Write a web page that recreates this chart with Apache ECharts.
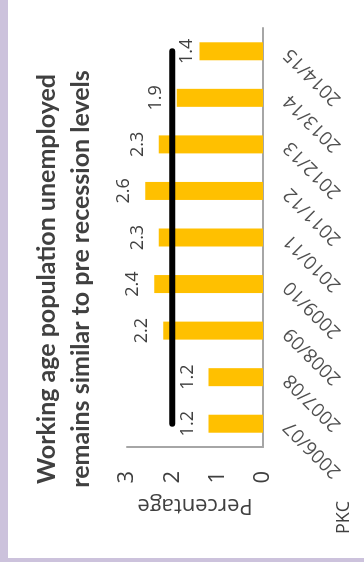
<!DOCTYPE html>
<html>
<head>
<meta charset="utf-8">
<script src="https://cdn.jsdelivr.net/npm/echarts@6/dist/echarts.min.js"></script>
<style>
  html, body { margin: 0; padding: 0; }
  body { width: 364px; height: 562px; background: #CCC2DC; position: relative; overflow: hidden; }
  /* chart is laid out landscape, then turned a quarter turn anticlockwise */
  #chart {
    position: absolute; left: 8px; top: 558px;
    width: 558px; height: 356px;
    background: #ffffff;
    transform-origin: 0 0;
    transform: rotate(-90deg);
  }
</style>
</head>
<body>
<div id="chart"></div>
<script>
// Financial years shown on the category axis
const categories = ['2006/07', '2007/08', '2008/09', '2009/10', '2010/11', '2011/12', '2012/13', '2013/14', '2014/15'];
// Working age population unemployed (%)
const unemployed = [1.2, 1.2, 2.2, 2.4, 2.3, 2.6, 2.3, 1.9, 1.4];
// Pre-recession reference level (%)
const preRecession = [2, 2, 2, 2, 2, 2, 2, 2, 2];
// Value axis ticks
const valueTicks = [0, 1, 2, 3];

const textColor = '#404040';
const bodyFont = '"Open Sans", sans-serif';

const barData = unemployed.map(function (v, i) {
  // the 2014/15 label sits closer to its bar so it clears the reference line
  if (categories[i] === '2014/15') {
    return { value: v, label: { distance: 4 } };
  }
  return v;
});

const chart = echarts.init(document.getElementById('chart'), null, { renderer: 'canvas' });
chart.setOption({
  animation: false,
  backgroundColor: '#ffffff',
  title: {
    text: 'Working age population unemployed\nremains similar to pre recession levels',
    left: 'center',
    top: 17,
    textStyle: {
      fontFamily: 'Lato, sans-serif',
      fontWeight: 'bold',
      fontSize: 25,
      lineHeight: 34,
      color: '#404040'
    }
  },
  graphic: [{
    type: 'text',
    left: 24,
    top: 327,
    style: { text: 'PKC', font: '18px "Open Sans", sans-serif', fill: '#404040' }
  }],
  grid: { left: 111, right: 28, top: 119, bottom: 101, containLabel: false },
  xAxis: {
    type: 'category',
    data: categories,
    boundaryGap: true,
    axisLine: { show: true, lineStyle: { color: '#a6a6a6', width: 2 } },
    axisTick: { show: false },
    axisLabel: {
      rotate: 45,
      margin: 24,
      interval: 0,
      fontFamily: bodyFont,
      fontSize: 19,
      color: '#505050'
    },
    splitLine: { show: false }
  },
  yAxis: {
    type: 'value',
    min: valueTicks[0],
    max: valueTicks[valueTicks.length - 1],
    interval: valueTicks[1] - valueTicks[0],
    name: 'Percentage',
    nameLocation: 'middle',
    nameGap: 46,
    nameTextStyle: { fontFamily: bodyFont, fontSize: 22, color: textColor },
    axisLine: { show: true, lineStyle: { color: '#a6a6a6', width: 2 } },
    axisTick: { show: false },
    axisLabel: { margin: 24, fontFamily: bodyFont, fontSize: 22, color: textColor },
    splitLine: { show: false }
  },
  series: [
    {
      type: 'bar',
      data: barData,
      barWidth: 18,
      itemStyle: { color: '#FFC000' },
      label: {
        show: true,
        position: 'top',
        distance: 12,
        fontFamily: bodyFont,
        fontSize: 18,
        color: textColor
      },
      z: 2
    },
    {
      type: 'line',
      data: preRecession,
      symbol: 'none',
      lineStyle: { color: '#000000', width: 6, cap: 'round' },
      z: 3
    }
  ]
});
</script>
</body>
</html>
